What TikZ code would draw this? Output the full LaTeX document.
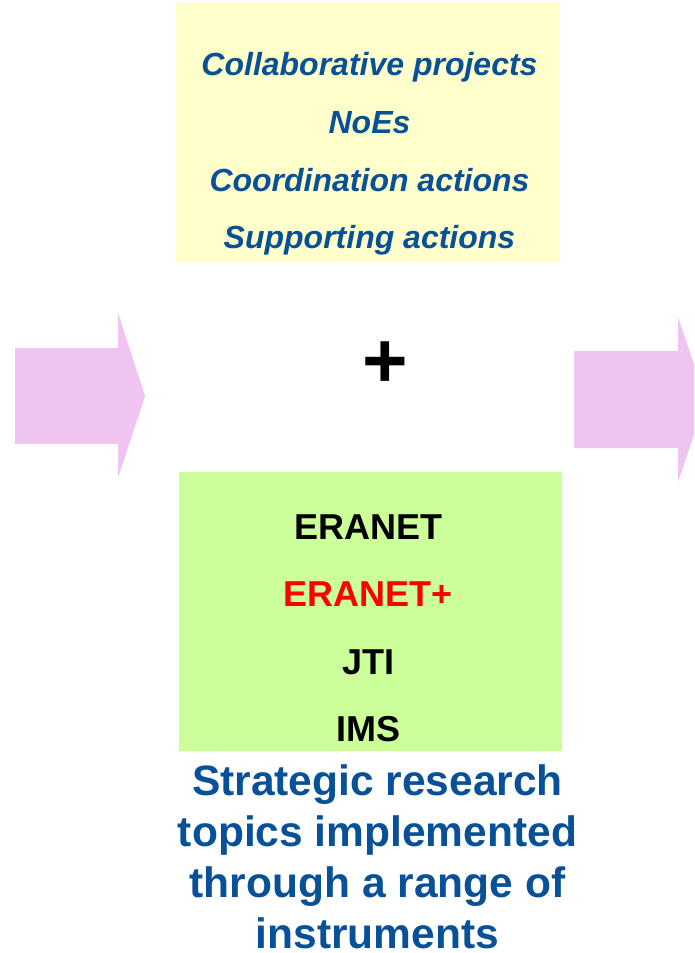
\documentclass[tikz,border=0pt]{standalone}
\usepackage{fontspec}
\setmainfont{Liberation Sans}
\definecolor{navy}{RGB}{8,80,152}
\definecolor{paleyellow}{RGB}{255,255,204}
\definecolor{palegreen}{RGB}{204,255,153}
\definecolor{pink}{RGB}{240,196,240}
\begin{document}
\begin{tikzpicture}[x=1pt,y=-1pt,
  box/.style={inner sep=0pt,minimum width=#1},
  toptext/.style={anchor=base,inner sep=0pt,text=navy,font=\fontsize{32}{38}\selectfont\bfseries\itshape},
  instr/.style={anchor=base,inner sep=0pt,font=\fontsize{36}{43}\selectfont\bfseries}]
\useasboundingbox (0,0) rectangle (694,953);
\clip (0,0) rectangle (694,953);
% arrows
\fill[pink] (15,348) -- (118,348) -- (118,313) -- (145,396) -- (118,478) -- (118,444) -- (15,444) -- cycle;
\fill[pink] (574,351) -- (678,351) -- (678,317) -- (706,399.5) -- (678,482) -- (678,448) -- (574,448) -- cycle;
% upper box
\begin{scope}[shift={(0,0)}]
\node[box=384pt,minimum height=259pt,fill=paleyellow] (tools) at (368,132.5) {};
\node[toptext] (collab) at (369.5,75) {Collaborative projects};
\node[toptext] (noe) at (369.5,133) {NoEs};
\node[toptext] (coord) at (369.5,191) {Coordination actions};
\node[toptext] (support) at (369.5,248) {Supporting actions};
\end{scope}
\node[inner sep=0pt,font=\fontsize{78}{80}\selectfont\bfseries] (plus) at (385.5,365) {+};
% lower box
\begin{scope}[shift={(0,0)}]
\node[box=383pt,minimum height=279pt,fill=palegreen] (instruments) at (370.5,611.5) {};
\node[instr] (eranet) at (368.5,539) {ERANET};
\node[instr,text=red] (eranetplus) at (368.5,606) {ERANET+};
\node[instr] (jti) at (368.5,674) {JTI};
\node[instr] (ims) at (368.5,741) {IMS};
\end{scope}
\node[anchor=north,inner sep=0pt,align=center,text=navy,font=\fontsize{42.5}{51}\selectfont\bfseries] (topics) at (377.5,764) {Strategic research\\topics implemented\\through a range of\\instruments};
\end{tikzpicture}
\end{document}
